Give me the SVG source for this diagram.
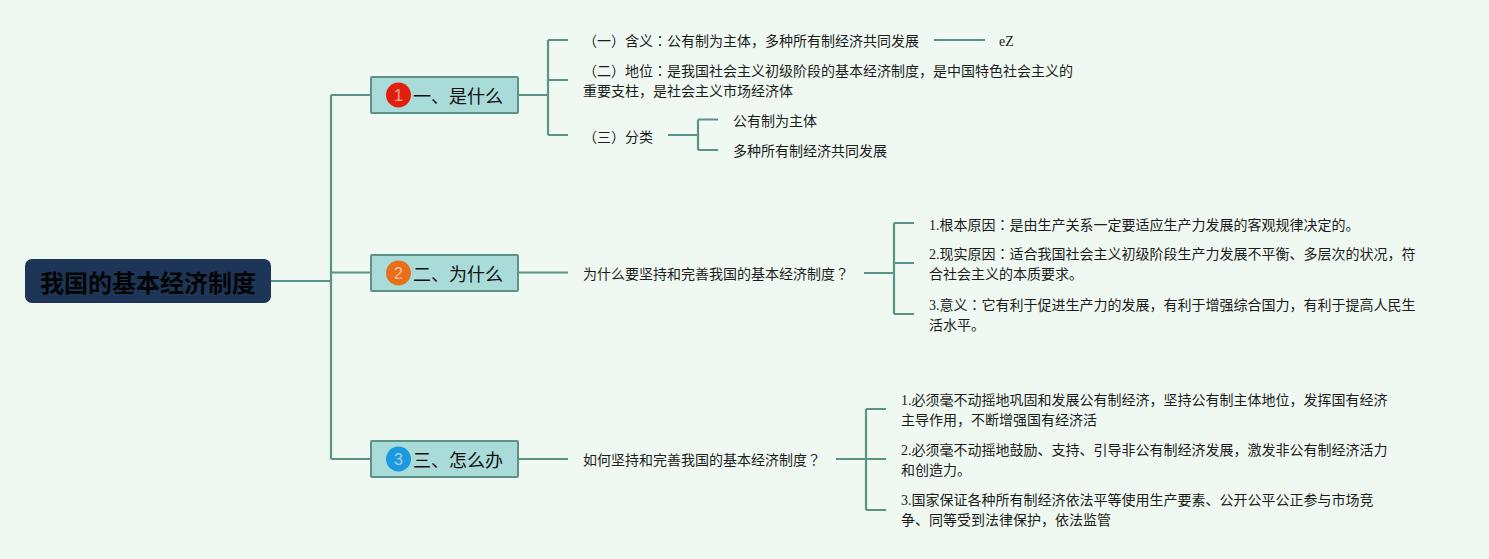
<svg xmlns="http://www.w3.org/2000/svg" width="1489" height="559" viewBox="0 0 1489 559">
<style>
text{font-family:"Liberation Serif","Noto Sans CJK SC",serif;font-size:14px;fill:#1c1c1c}
.p{font-family:"Noto Sans CJK TC",sans-serif}
.t1{font-family:"Liberation Sans","Noto Sans CJK SC",sans-serif;font-size:18px;fill:#111}
.root{font-family:"Noto Sans CJK SC",sans-serif;font-size:24px;font-weight:700;fill:#050505}
.box{fill:#a9dbd9;stroke:#5b9487;stroke-width:2}
.num{font-family:"Liberation Sans",sans-serif;font-size:16px;text-anchor:middle;fill-opacity:.7;fill:#f3e6da}
#connectors path{fill:none;stroke:#5b9487;stroke-width:2.200}
</style>
<rect width="1489" height="559" fill="#eff9f1"/>
<g id="connectors">
<path d="M271 281H331M331 95V459M331 95H371M331 272.500H371M331 459H371"/>
<path d="M519 95H548M548 40V135M548 40H568M548 80H568M548 135H568"/>
<path d="M934 40H985"/>
<path d="M668 135H698M698 119.500V150M698 119.500H718M698 150H718"/>
<path d="M519 272.500H568"/>
<path d="M864 273H894M894 223V314M894 223H914M894 263H914M894 314H914"/>
<path d="M519 459H568"/>
<path d="M836 459H866M866 409V510M866 409H886M866 459H886M866 510H886"/>
</g>
<g id="root"><rect x="25" y="259" width="246" height="44" rx="7" fill="#1d3557"/><text class="root" x="40" y="292">我国的基本经济制度</text></g>
<g id="n1"><rect class="box" x="371" y="77" width="147" height="36" rx="1"/><circle cx="398.500" cy="95" r="12.500" fill="#e0200c"/><text class="num" x="398.500" y="101">1</text><text class="t1" x="413" y="103">一、是什么</text></g>
<g id="n2"><rect class="box" x="371" y="255" width="147" height="36" rx="1"/><circle cx="398.500" cy="273" r="12.500" fill="#e8701a"/><text class="num" x="398.500" y="279">2</text><text class="t1" x="413" y="281">二、为什么</text></g>
<g id="n3"><rect class="box" x="371" y="441" width="147" height="36" rx="1"/><circle cx="398.500" cy="459" r="12.500" fill="#1b9ae0"/><text class="num" x="398.500" y="465">3</text><text class="t1" x="413" y="467">三、怎么办</text></g>
<g id="a1"><text x="583" y="46">（一）含义<tspan class="p">：</tspan>公有制为主体，多种所有制经济共同发展</text></g>
<g id="a1z"><text x="999" y="46">eZ</text></g>
<g id="a2"><text x="583" y="76">（二）地位<tspan class="p">：</tspan>是我国社会主义初级阶段的基本经济制度，是中国特色社会主义的</text><text x="583" y="96">重要支柱，是社会主义市场经济体</text></g>
<g id="a3"><text x="583" y="142">（三）分类</text></g>
<g id="a31"><text x="733" y="126">公有制为主体</text></g>
<g id="a32"><text x="733" y="156">多种所有制经济共同发展</text></g>
<g id="b"><text x="583" y="279">为什么要坚持和完善我国的基本经济制度<tspan class="p">？</tspan></text></g>
<g id="b1"><text x="929" y="230">1.根本原因<tspan class="p">：</tspan>是由生产关系一定要适应生产力发展的客观规律决定的。</text></g>
<g id="b2"><text x="929" y="259">2.现实原因<tspan class="p">：</tspan>适合我国社会主义初级阶段生产力发展不平衡、多层次的状况，符</text><text x="929" y="279">合社会主义的本质要求。</text></g>
<g id="b3"><text x="929" y="310">3.意义<tspan class="p">：</tspan>它有利于促进生产力的发展，有利于增强综合国力，有利于提高人民生</text><text x="929" y="330">活水平。</text></g>
<g id="c"><text x="583" y="465">如何坚持和完善我国的基本经济制度<tspan class="p">？</tspan></text></g>
<g id="c1"><text x="901" y="405">1.必须毫不动摇地巩固和发展公有制经济，坚持公有制主体地位，发挥国有经济</text><text x="901" y="425">主导作用，不断增强国有经济活</text></g>
<g id="c2"><text x="901" y="455">2.必须毫不动摇地鼓励、支持、引导非公有制经济发展，激发非公有制经济活力</text><text x="901" y="475">和创造力。</text></g>
<g id="c3"><text x="901" y="505">3.国家保证各种所有制经济依法平等使用生产要素、公开公平公正参与市场竞</text><text x="901" y="525">争、同等受到法律保护，依法监管</text></g>
</svg>
